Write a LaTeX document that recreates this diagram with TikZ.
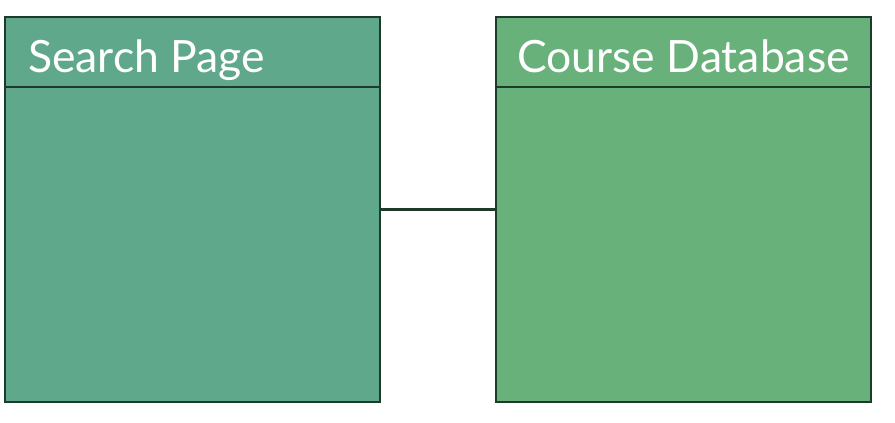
\documentclass[tikz,border=0pt]{standalone}
\usepackage{fontspec}
\setmainfont{Lato}
\definecolor{searchGreen}{HTML}{60A88B}
\definecolor{courseGreen}{HTML}{69B17B}
\definecolor{edgeGreen}{HTML}{1E3A2B}
\begin{document}
\begin{tikzpicture}[x=1pt, y=-1pt,
  box/.style={draw=edgeGreen, line width=2.4pt, minimum width=375pt, minimum height=385pt, inner sep=0pt},
  title/.style={text=white, font=\fontsize{44.5}{44.5}\selectfont, inner sep=0pt}]

\useasboundingbox (0,0) rectangle (895,423);

\node [box, fill=searchGreen] (searchBox) at (192.5,209.5) {};
\node [box, fill=courseGreen] (courseBox) at (683.5,209.5) {};

\draw [draw=edgeGreen, line width=2.4pt] (5,87) -- (380,87);
\draw [draw=edgeGreen, line width=2.4pt] (496,87) -- (871,87);

\node [title, anchor=base west] (searchTitle) at (28,72) {Search Page};
\node [title, anchor=base] (courseTitle) at (683.5,72) {Course Database};

\draw [draw=edgeGreen, line width=2.2pt] (searchBox.east) -- (courseBox.west);

\end{tikzpicture}
\end{document}
